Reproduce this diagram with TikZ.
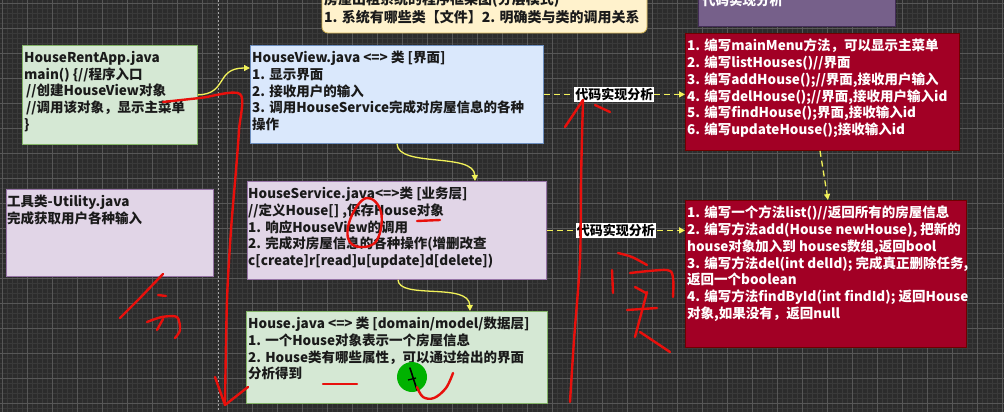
\documentclass[tikz,border=0pt]{standalone}
\usepackage{fontspec}
\setmainfont{Noto Sans CJK SC}
\usetikzlibrary{arrows.meta,calc}
\definecolor{bgc}{HTML}{2C2C2C}
\definecolor{minorc}{HTML}{3A3A3A}
\definecolor{majorc}{HTML}{575757}
\definecolor{gfill}{HTML}{D5E8D4}\definecolor{gdraw}{HTML}{82B366}
\definecolor{bfill}{HTML}{DAE8FC}\definecolor{bdraw}{HTML}{6C8EBF}
\definecolor{pfill}{HTML}{E1D5E7}\definecolor{pdraw}{HTML}{9673A6}
\definecolor{rfill}{HTML}{A20025}\definecolor{rdraw}{HTML}{6F0000}
\definecolor{cfill}{HTML}{FFF2CC}\definecolor{cdraw}{HTML}{D6B656}
\definecolor{dpfill}{HTML}{76608A}\definecolor{dpdraw}{HTML}{432D57}
\definecolor{yel}{HTML}{F2F25A}
\definecolor{pen}{HTML}{E8100C}
\definecolor{txtc}{HTML}{1A1A1A}
\tikzset{
  box/.style={draw=#1, line width=0.8pt, anchor=north west, inner sep=0pt},
  txt/.style={anchor=north west, align=left, inner sep=0pt, text=txtc,
    font=\fontsize{13.5}{16.7}\selectfont\bfseries},
  wtxt/.style={txt, text=white},
  lbl/.style={fill=white, text=black, inner sep=1pt, font=\fontsize{13}{14}\selectfont\bfseries},
  yarrow/.style={draw=yel, line width=1.3pt, -{Triangle[length=6pt,width=6pt]}},
  ydash/.style={yarrow, dash pattern=on 6pt off 4pt},
  hand/.style={draw=pen, line width=2.4pt, line cap=round, line join=round},
  minorline/.style={draw=minorc, line width=0.5pt},
  majorline/.style={draw=majorc, line width=0.7pt}
}
\begin{document}
\begin{tikzpicture}[x=1pt,y=-1pt]
\useasboundingbox (0,0) rectangle (1004,412);
\fill[bgc] (0,0) rectangle (1004,412);
\foreach \x in {2,7,...,1002} \draw[minorline] (\x,0) -- (\x,412);
\foreach \y in {3,8,...,408} \draw[minorline] (0,\y) -- (1004,\y);
\foreach \x in {2,27,...,1002} \draw[majorline] (\x,0) -- (\x,412);
\foreach \y in {3,28,...,403} \draw[majorline] (0,\y) -- (1004,\y);
\draw[gray!70, line width=0.8pt, dash pattern=on 2pt off 2pt] (218,0) -- (218,412);

\begin{scope}
\clip (0,0) rectangle (1004,412);
% title box
\draw[cdraw, fill=cfill, line width=0.8pt, rounded corners=6pt] (322,-20) rectangle (647,33);
\node[txt, font=\fontsize{14}{16}\selectfont\bfseries, anchor=west] (title1) at (324,0) {房屋出租系统的程序框架图(分层模式)};
\node[txt, font=\fontsize{14}{16}\selectfont\bfseries, anchor=west] (title2) at (324,17) {1. 系统有哪些类【文件】2. 明确类与类的调用关系};
% top right purple box
\draw[dpdraw, fill=dpfill, line width=0.8pt] (698,-20) rectangle (895,26);
\node[wtxt, anchor=west] (ptitle) at (702,0) {代码实现分析};
\end{scope}

% boxes
\node[box=gdraw, fill=gfill, minimum width=175pt, minimum height=99pt] (app) at (22,45) {};
\node[txt] (appT) at ($(app.north west)+(2,6)$) {HouseRentApp.java\\main() \{//程序入口\\\hspace{2pt}//创建HouseView对象\\\hspace{2pt}//调用该对象，显示主菜单\\\}};

\node[box=bdraw, fill=bfill, minimum width=293pt, minimum height=98pt] (view) at (250,45) {};
\node[txt] (viewT) at ($(view.north west)+(2,6)$) {HouseView.java <=> 类 [界面]\\1. 显示界面\\2. 接收用户的输入\\3. 调用HouseService完成对房屋信息的各种\\操作};

\node[box=pdraw, fill=pfill, minimum width=207pt, minimum height=87pt] (util) at (6,189) {};
\node[txt] (utilT) at ($(util.north west)+(1,6)$) {工具类-Utility.java\\完成获取用户各种输入};

\node[box=pdraw, fill=pfill, minimum width=299pt, minimum height=98pt] (svc) at (247,181) {};
\node[txt] (svcT) at ($(svc.north west)+(1,6)$) {HouseService.java<=>类 [业务层]\\//定义House[] ,保存House对象\\1. 响应HouseView的调用\\2. 完成对房屋信息的各种操作(增删改查\\c[create]r[read]u[update]d[delete])};

\node[box=gdraw, fill=gfill, minimum width=301pt, minimum height=92pt] (house) at (246,311) {};
\node[txt] (houseT) at ($(house.north west)+(2,6)$) {House.java <=> 类 [domain/model/数据层]\\1. 一个House对象表示一个房屋信息\\2. House类有哪些属性，可以通过给出的界面\\分析得到};

\node[box=rdraw, fill=rfill, minimum width=274pt, minimum height=117pt] (red1) at (685,33) {};
\node[wtxt] (red1T) at ($(red1.north west)+(2,6)$) {1. 编写mainMenu方法，可以显示主菜单\\2. 编写listHouses()//界面\\3. 编写addHouse();//界面,接收用户输入\\4. 编写delHouse();//界面,接收用户输入id\\5. 编写findHouse();界面,接收输入id\\6. 编写updateHouse();接收输入id};

\node[box=rdraw, fill=rfill, minimum width=281pt, minimum height=147pt] (red2) at (685,200) {};
\node[wtxt] (red2T) at ($(red2.north west)+(2,6)$) {1. 编写一个方法list()//返回所有的房屋信息\\2. 编写方法add(House newHouse), 把新的\\house对象加入到 houses数组,返回bool\\3. 编写方法del(int delId); 完成真正删除任务,\\返回一个boolean\\4. 编写方法findById(int findId); 返回House\\对象,如果没有，返回null};

% connectors
\draw[yarrow] (app.east) .. controls (228,94) and (215,68) .. ($(view.north west)+(0,23)$);
\draw[yarrow] ($(view.south west)+(147,0)$) .. controls (398,168) and (474,152) .. ($(svc.north west)+(228,0)$);
\draw[yarrow] ($(svc.south west)+(151,0)$) .. controls (399,300) and (469,282) .. ($(house.north west)+(224,0)$);
\draw[ydash] (view.east) -- node[lbl] (l1) {代码实现分析} (view.east -| red1.west);
\draw[ydash] (svc.east) -- node[lbl] (l2) {代码实现分析} (svc.east -| red2.west);
\draw[ydash] ($(red1.south west)+(135,0)$) -- ($(red2.north west)+(143,0)$);

% hand-drawn annotations
\draw[hand] plot[smooth, tension=0.5] coordinates {(163,102) (200,98) (240,94) (239,130) (236,170) (231,230) (227,300) (225,403)};
\draw[hand] (215,377) -- (225,405) -- (248,387);
% 分
\draw[hand] (163,274) -- (140,298) -- (120,318);
\draw[hand] (158,295) -- (166,296);
\draw[hand] plot[smooth, tension=0.5] coordinates {(147,322) (162,317) (177,317) (180,330) (175,338)};
\draw[hand] (163,319) -- (157,330);
% up arrow
\draw[hand] plot[smooth, tension=0.5] coordinates {(570,402) (574,340) (580,260) (581,180) (583,100)};
\draw[hand] (565,127) -- (583,100);
\draw[hand] (595,105) -- (610,112);
% 实
\draw[hand] plot[smooth, tension=0.5] coordinates {(618,253) (632,257) (647,265)};
\draw[hand] (612,270) -- (613,293);
\draw[hand] plot[smooth, tension=0.5] coordinates {(630,273) (667,270) (673,278) (673,297)};
\draw[hand] (635,287) -- (646,293);
\draw[hand] (627,310) -- (657,308);
\draw[hand] (647,292) -- (635,337);
\draw[hand] (640,332) -- (670,352);
% loop on HouseService
\draw[hand] plot[smooth cycle, tension=0.7] coordinates {(367,198) (352,215) (348,238) (360,247) (377,240) (381,212)};
\draw[hand] (417,221) -- (440,220);
% House box marks
\draw[hand] (323,384) -- (357,384);
\fill[green!70!black] (412,377) circle (15pt);
\draw[black, line width=1.6pt, line cap=round] (410,368) -- (417,390);
\draw[black, line width=1.3pt] (408,380) -- (416,378);
\draw[hand] plot[smooth, tension=0.6] coordinates {(417,387) (423,397) (434,398) (446,388) (453,373)};
\end{tikzpicture}
\end{document}
